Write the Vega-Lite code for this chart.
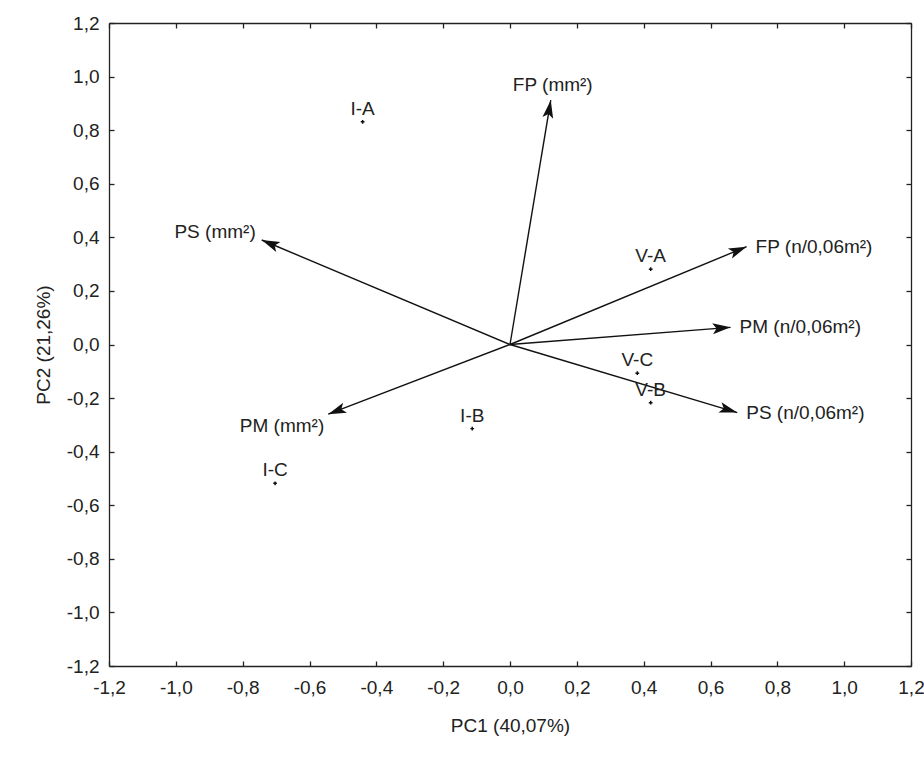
{
  "$schema": "https://vega.github.io/schema/vega-lite/v6.json",
  "width": 802,
  "height": 643,
  "autosize": {"type": "none"},
  "padding": {"left": 109, "top": 23, "right": 13, "bottom": 91},
  "background": "white",
  "config": {
    "view": {"stroke": null},
    "font": "Liberation Sans",
    "axis": {
      "grid": false,
      "domainColor": "#222",
      "domainWidth": 1.3,
      "tickColor": "#222",
      "tickWidth": 1.3,
      "tickSize": -5,
      "labelFont": "Liberation Sans",
      "labelFontSize": 19,
      "labelColor": "#222",
      "labelFlush": false,
      "labelOverlap": false,
      "labelBound": false,
      "titleFont": "Liberation Sans",
      "titleFontSize": 19,
      "titleFontWeight": "normal",
      "titleColor": "#222"
    }
  },
  "datasets": {
    "vars": [
      {"name": "FP (mm²)", "x": 0.122, "y": 0.912},
      {"name": "PS (mm²)", "x": -0.743, "y": 0.39},
      {"name": "PM (mm²)", "x": -0.544, "y": -0.26},
      {"name": "FP (n/0,06m²)", "x": 0.708, "y": 0.365},
      {"name": "PM (n/0,06m²)", "x": 0.66, "y": 0.064},
      {"name": "PS (n/0,06m²)", "x": 0.68, "y": -0.254}
    ],
    "cases": [
      {"name": "I-A", "x": -0.441, "y": 0.831},
      {"name": "I-B", "x": -0.113, "y": -0.314},
      {"name": "I-C", "x": -0.703, "y": -0.518},
      {"name": "V-A", "x": 0.421, "y": 0.281},
      {"name": "V-B", "x": 0.421, "y": -0.217},
      {"name": "V-C", "x": 0.381, "y": -0.107}
    ]
  },
  "resolve": {"axis": {"x": "independent", "y": "independent"}},
  "layer": [
    {
      "data": {"name": "cases"},
      "mark": {"type": "point", "shape": "cross", "filled": true, "size": 14, "color": "#111", "opacity": 1},
      "encoding": {
        "x": {
          "field": "x", "type": "quantitative",
          "scale": {"domain": [-1.2, 1.2], "nice": false, "zero": false},
          "axis": {
            "orient": "bottom",
            "values": [-1.2, -1.0, -0.8, -0.6, -0.4, -0.2, 0, 0.2, 0.4, 0.6, 0.8, 1.0, 1.2],
            "labelExpr": "(datum.value < -0.001 ? '-' : '') + replace(format(abs(datum.value), '.1f'), '.', ',')",
            "labelPadding": 17,
            "title": "PC1 (40,07%)",
            "titleX": 401,
            "titleY": 59,
            "titleBaseline": "middle"
          }
        },
        "y": {
          "field": "y", "type": "quantitative",
          "scale": {"domain": [-1.2, 1.2], "nice": false, "zero": false},
          "axis": {
            "orient": "left",
            "values": [-1.2, -1.0, -0.8, -0.6, -0.4, -0.2, 0, 0.2, 0.4, 0.6, 0.8, 1.0, 1.2],
            "labelExpr": "(datum.value < -0.001 ? '-' : '') + replace(format(abs(datum.value), '.1f'), '.', ',')",
            "labelPadding": 15,
            "title": "PC2 (21,26%)",
            "titleX": -66,
            "titleY": 321.5,
            "titleBaseline": "middle",
            "titleAngle": -90
          }
        }
      }
    },
    {
      "data": {"name": "cases"},
      "mark": {"type": "point", "opacity": 0},
      "encoding": {
        "x": {
          "field": "x", "type": "quantitative",
          "axis": {
            "orient": "top", "labels": false, "title": null,
            "values": [-1.2, -1.0, -0.8, -0.6, -0.4, -0.2, 0, 0.2, 0.4, 0.6, 0.8, 1.0, 1.2]
          }
        },
        "y": {
          "field": "y", "type": "quantitative",
          "axis": {
            "orient": "right", "labels": false, "title": null,
            "values": [-1.2, -1.0, -0.8, -0.6, -0.4, -0.2, 0, 0.2, 0.4, 0.6, 0.8, 1.0, 1.2]
          }
        }
      }
    },
    {
      "mark": {"type": "rule", "color": "#111", "strokeWidth": 1.5},
      "encoding": {"x": {"datum": 0, "type": "quantitative", "axis": null}}
    },
    {
      "mark": {"type": "rule", "color": "#111", "strokeWidth": 1.5},
      "encoding": {"y": {"datum": 0, "type": "quantitative", "axis": null}}
    },
    {
      "data": {"name": "vars"},
      "mark": {"type": "rule", "color": "#111", "strokeWidth": 1.4},
      "encoding": {
        "x": {"field": "x", "type": "quantitative", "axis": null},
        "y": {"field": "y", "type": "quantitative", "axis": null},
        "x2": {"datum": 0},
        "y2": {"datum": 0}
      }
    },
    {
      "data": {"name": "vars"},
      "transform": [
        {"calculate": "atan2(datum.x * 334.17, datum.y * 267.92) * 180 / PI", "as": "ang"}
      ],
      "mark": {"type": "point", "shape": "M0,0L0.3,1L0,0.78L-0.3,1Z", "filled": true, "size": 1296, "color": "#111", "opacity": 1, "strokeWidth": 0},
      "encoding": {
        "x": {"field": "x", "type": "quantitative", "axis": null},
        "y": {"field": "y", "type": "quantitative", "axis": null},
        "angle": {"field": "ang", "type": "quantitative", "scale": null}
      }
    },
    {
      "data": {"name": "vars"},
      "transform": [{"filter": "indexof(datum.name, 'n/0') >= 0"}],
      "mark": {"type": "text", "align": "left", "baseline": "middle", "dx": 9, "fontSize": 19, "color": "#222", "font": "Liberation Sans"},
      "encoding": {
        "x": {"field": "x", "type": "quantitative", "axis": null},
        "y": {"field": "y", "type": "quantitative", "axis": null},
        "text": {"field": "name"}
      }
    },
    {
      "data": {"name": "vars"},
      "transform": [{"filter": "datum.name == 'PS (mm²)'"}],
      "mark": {"type": "text", "align": "right", "baseline": "middle", "dx": -6, "dy": -8, "fontSize": 19, "color": "#222", "font": "Liberation Sans"},
      "encoding": {
        "x": {"field": "x", "type": "quantitative", "axis": null},
        "y": {"field": "y", "type": "quantitative", "axis": null},
        "text": {"field": "name"}
      }
    },
    {
      "data": {"name": "vars"},
      "transform": [{"filter": "datum.name == 'PM (mm²)'"}],
      "mark": {"type": "text", "align": "right", "baseline": "middle", "dx": -4, "dy": 12, "fontSize": 19, "color": "#222", "font": "Liberation Sans"},
      "encoding": {
        "x": {"field": "x", "type": "quantitative", "axis": null},
        "y": {"field": "y", "type": "quantitative", "axis": null},
        "text": {"field": "name"}
      }
    },
    {
      "data": {"name": "vars"},
      "transform": [{"filter": "datum.name == 'FP (mm²)'"}],
      "mark": {"type": "text", "align": "center", "baseline": "middle", "dx": 2, "dy": -15, "fontSize": 19, "color": "#222", "font": "Liberation Sans"},
      "encoding": {
        "x": {"field": "x", "type": "quantitative", "axis": null},
        "y": {"field": "y", "type": "quantitative", "axis": null},
        "text": {"field": "name"}
      }
    },
    {
      "data": {"name": "cases"},
      "mark": {"type": "text", "align": "center", "baseline": "middle", "dy": -13, "fontSize": 19, "color": "#222", "font": "Liberation Sans"},
      "encoding": {
        "x": {"field": "x", "type": "quantitative", "axis": null},
        "y": {"field": "y", "type": "quantitative", "axis": null},
        "text": {"field": "name"}
      }
    }
  ]
}
